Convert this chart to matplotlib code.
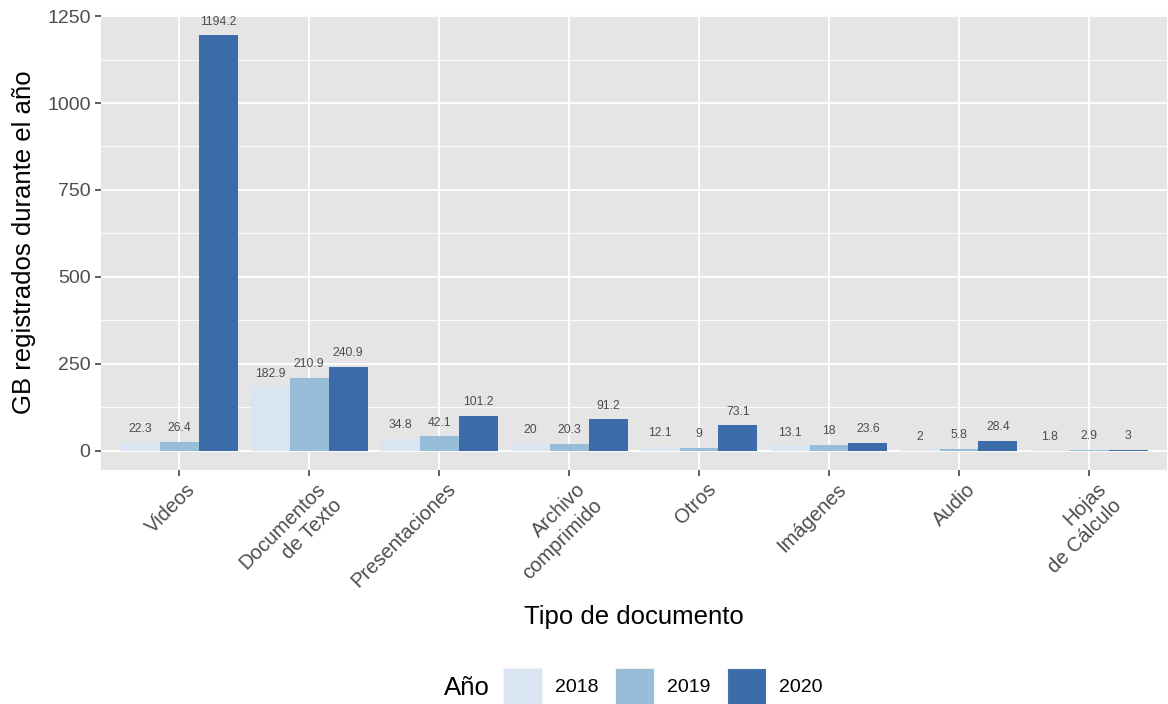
import matplotlib
matplotlib.use("Agg")
import matplotlib.pyplot as plt
import matplotlib.transforms as mtransforms
import numpy as np
from matplotlib.patches import Rectangle

categories = ["Videos", "Documentos\nde Texto", "Presentaciones", "Archivo\ncomprimido",
              "Otros", "Imágenes", "Audio", "Hojas\nde Cálculo"]
years = ["2018", "2019", "2020"]
v2018 = [22.3, 182.9, 34.8, 20, 12.1, 13.1, 2, 1.8]
v2019 = [26.4, 210.9, 42.1, 20.3, 9, 18, 5.8, 2.9]
v2020 = [1194.2, 240.9, 101.2, 91.2, 73.1, 23.6, 28.4, 3]
colors = ["#DAE5F3", "#98BDD8", "#3B6BA9"]
yticks = [0, 250, 500, 750, 1000, 1250]

plt.rcParams['font.family'] = ['Liberation Sans', 'DejaVu Sans']

fig = plt.figure(figsize=(11.68, 7.04), dpi=100)
ax = fig.add_axes([101/1168, 1 - 470/704, 1066/1168, 455/704])
ax.set_facecolor("#E5E5E5")
for s in ax.spines.values():
    s.set_visible(False)

x = np.arange(len(categories))
w = 0.3
series = [v2018, v2019, v2020]
for i, (vals, c) in enumerate(zip(series, colors)):
    xs = x + (i - 1) * w
    ax.bar(xs, vals, width=w, color=c, zorder=3, label=years[i])
    for xi, v in zip(xs, vals):
        lab = ("%g" % v)
        ax.annotate(lab, (xi, v), xytext=(0, 5.5), textcoords="offset points",
                    ha="center", va="bottom", fontsize=8.7, color="#4D4D4D", zorder=4)

ax.set_xlim(-0.6, len(categories) - 0.4)
ax.set_ylim(-55, 1253)
ax.set_yticks(yticks)
ax.set_yticks([125, 375, 625, 875, 1125], minor=True)
ax.set_xticks(x)
ax.grid(which="major", color="white", linewidth=1.3, zorder=0)
ax.grid(which="minor", axis="y", color="white", linewidth=0.6, zorder=0)
ax.set_axisbelow(True)
ax.tick_params(axis="both", which="major", color="#333333", length=4, width=1.1,
               labelsize=14, labelcolor="#4D4D4D")
ax.tick_params(axis="x", which="major", pad=5, labelsize=14.5)
ax.tick_params(axis="y", which="minor", length=0)
ax.set_yticklabels([str(t) for t in yticks])
ax.set_xticklabels(categories, rotation=45, ha="right", va="top",
                   rotation_mode="anchor", multialignment="right", linespacing=1.25)
offset = mtransforms.ScaledTranslation(7/100, 3/100, fig.dpi_scale_trans)
for lbl in ax.get_xticklabels():
    lbl.set_transform(lbl.get_transform() + offset)
ax.set_ylabel("GB registrados durante el año", fontsize=18.5, color="black", labelpad=8)
ax.set_xlabel("Tipo de documento", fontsize=18.5, color="black", labelpad=10)

# Legend (bottom)
fig.text(467/1168, 1 - 688/704, "Año", fontsize=18.5, ha="center", va="center")
key_x = [503, 615, 727]
lab_x = [555, 667, 779]
for kx, lx, c, yr in zip(key_x, lab_x, colors, years):
    fig.add_artist(Rectangle((kx/1168, 1 - 705/704), 39/1168, 37/704,
                             transform=fig.transFigure, facecolor=c,
                             edgecolor="#F2F2F2", linewidth=0.8))
    fig.text(lx/1168, 1 - 688/704, yr, fontsize=14, ha="left", va="center")

fig.savefig("out.png", dpi=100)
